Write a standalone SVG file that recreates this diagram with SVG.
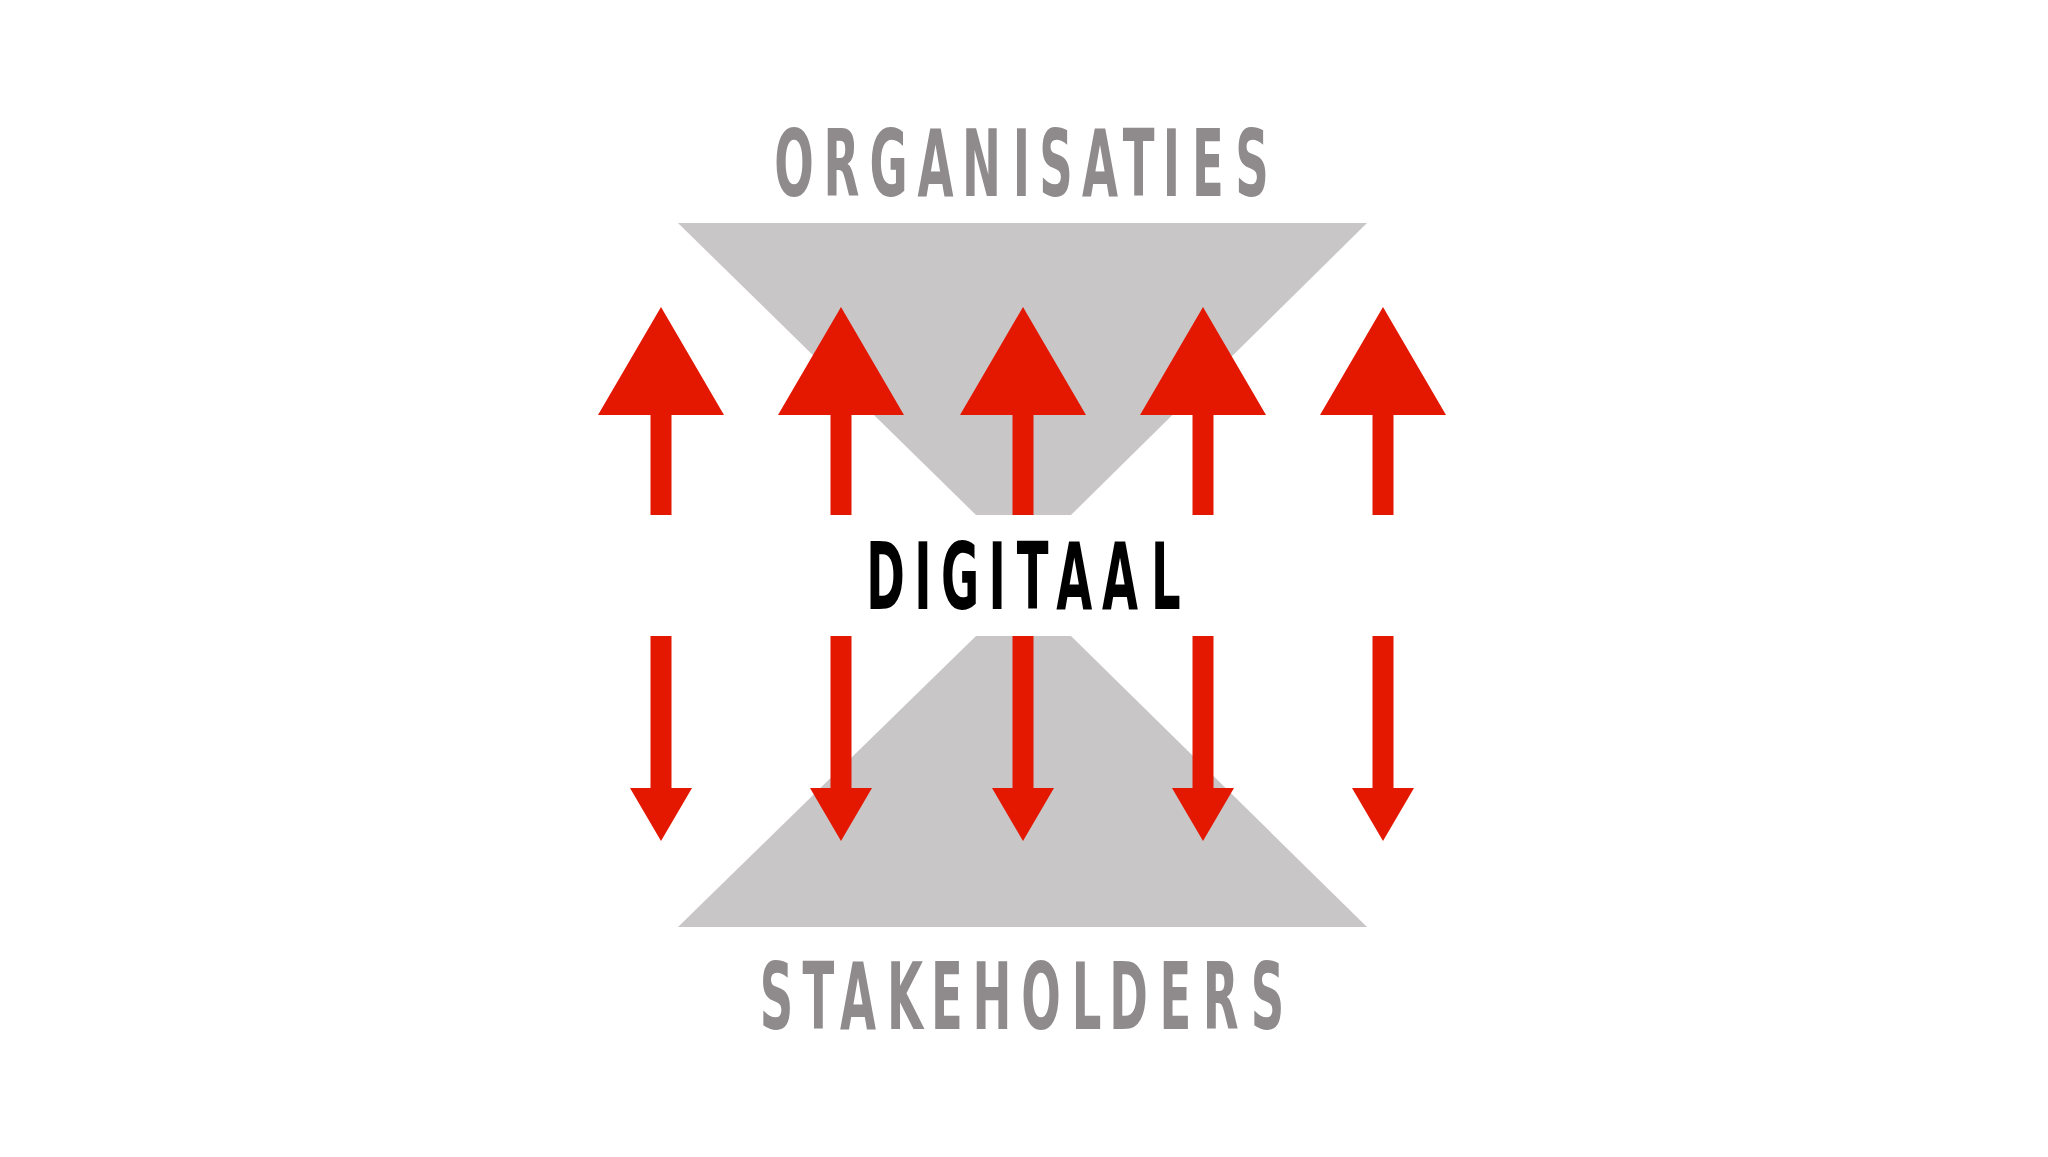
<svg xmlns="http://www.w3.org/2000/svg" xmlns:xlink="http://www.w3.org/1999/xlink" width="2048" height="1157" viewBox="0 0 2048 1157">
<style>
.trap{fill:#c8c6c7}
.arrow{fill:#e41700}
.lbl{font-family:"DejaVu Sans","Liberation Sans",sans-serif;font-weight:bold;font-size:93px;text-anchor:middle}
.gray{fill:#8f8b8c}
.black{fill:#000}
</style>
<defs>
<path id="up" d="M0,0 L63,108 L10.5,108 L10.5,208 L-10.5,208 L-10.5,108 L-63,108 Z"/>
<path id="down" d="M-10.5,0 L10.5,0 L10.5,152 L31,152 L0,205 L-31,152 L-10.5,152 Z"/>
</defs>
<rect width="2048" height="1157" fill="#ffffff"/>
<g id="organisaties-funnel"><polygon class="trap" points="678,223 1367,223 1071,515 976,515"/></g>
<g id="stakeholders-funnel"><polygon class="trap" points="976,636 1071,636 1367,927 678,927"/></g>
<g id="connectors">
<use xlink:href="#up" class="arrow" x="661" y="307"/>
<use xlink:href="#up" class="arrow" x="841" y="307"/>
<use xlink:href="#up" class="arrow" x="1023" y="307"/>
<use xlink:href="#up" class="arrow" x="1203" y="307"/>
<use xlink:href="#up" class="arrow" x="1383" y="307"/>
<use xlink:href="#down" class="arrow" x="661" y="636"/>
<use xlink:href="#down" class="arrow" x="841" y="636"/>
<use xlink:href="#down" class="arrow" x="1023" y="636"/>
<use xlink:href="#down" class="arrow" x="1203" y="636"/>
<use xlink:href="#down" class="arrow" x="1383" y="636"/>
</g>
<g id="organisaties">
<text class="lbl gray" transform="scale(0.5,1)" y="196" x="1588 1683 1777 1871 1963 2043 2112 2200 2277 2343 2416 2504">ORGANISATIES</text>
</g>
<g id="digitaal">
<text class="lbl black" transform="scale(0.5,1)" y="609" x="1771 1845.6 1920 1994.4 2065 2148.6 2240 2331.4">DIGITAAL</text>
</g>
<g id="stakeholders">
<text class="lbl gray" transform="scale(0.5,1)" y="1029" x="1553 1636.6 1716.2 1810.2 1893.8 1984 2081.8 2173.4 2257 2350.8 2441.2 2535.2">STAKEHOLDERS</text>
</g>
</svg>
